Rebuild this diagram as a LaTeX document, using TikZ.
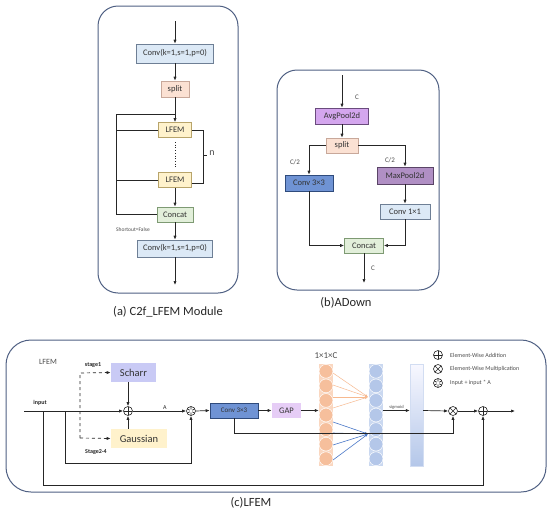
\documentclass[tikz,border=0pt]{standalone}
\usepackage{fontspec}
\setmainfont{Carlito}
\usetikzlibrary{arrows.meta,calc}
\definecolor{panelc}{HTML}{4F6083}
\definecolor{cl}{HTML}{DCE9F6}
\definecolor{clb}{HTML}{6E7F95}
\definecolor{peach}{HTML}{FBE1D3}
\definecolor{peachb}{HTML}{C8A89A}
\definecolor{yel}{HTML}{FFF2CC}
\definecolor{yelb}{HTML}{B8A46A}
\definecolor{grn}{HTML}{E2EFDA}
\definecolor{grnb}{HTML}{7E9A73}
\definecolor{avg}{HTML}{D4A6EE}
\definecolor{avgb}{HTML}{6A4B7D}
\definecolor{maxp}{HTML}{B08FC4}
\definecolor{maxpb}{HTML}{5A4466}
\definecolor{cdark}{HTML}{6F93D4}
\definecolor{cdarkb}{HTML}{2F4B7C}
\definecolor{sch}{HTML}{C9CAF5}
\definecolor{gapc}{HTML}{E6CDF6}
\definecolor{orl}{HTML}{FAD7C0}
\definecolor{orc}{HTML}{F6BF9C}
\definecolor{orline}{HTML}{F7B98F}
\definecolor{bll}{HTML}{CAD8F0}
\definecolor{blc}{HTML}{B4C7E9}
\definecolor{blline}{HTML}{4A78C8}
\begin{document}
\begin{tikzpicture}[x=1pt,y=-1pt,
  font=\fontsize{8.5}{9.5}\selectfont,
  ln/.style={line width=0.7pt, draw=black!85},
  arr/.style={ln,-{Latex[length=4pt,width=3.2pt]}},
  bx/.style={rectangle, inner sep=0pt, line width=0.6pt, text=black!80},
  panel/.style={draw=panelc, line width=1pt, fill=white},
  lbl/.style={text=black!70, inner sep=1pt},
  opc/.style={circle, draw=black!85, line width=0.6pt, minimum size=9pt, inner sep=0pt, fill=white},
  plusc/.style={opc, path picture={\draw[line width=0.6pt] (path picture bounding box.north) -- (path picture bounding box.south) (path picture bounding box.west) -- (path picture bounding box.east);}},
  timesc/.style={opc, path picture={\draw[line width=0.6pt] (path picture bounding box.north west) -- (path picture bounding box.south east) (path picture bounding box.north east) -- (path picture bounding box.south west);}},
  starc/.style={opc, path picture={\draw[line width=0.7pt] ($(path picture bounding box.center)+(0,5)$) -- ($(path picture bounding box.center)+(0,-5)$) ($(path picture bounding box.center)+(30:5pt)$) -- ($(path picture bounding box.center)+(210:5pt)$) ($(path picture bounding box.center)+(150:5pt)$) -- ($(path picture bounding box.center)+(330:5pt)$); \fill (path picture bounding box.center) circle (1.8pt);}},
  captxt/.style={font=\fontsize{12.5}{14}\selectfont, text=black!85}
]
\useasboundingbox (0,0) rectangle (550,512);

% ---------------- (a) ----------------
\draw[panel, rounded corners=20pt] (98,6) rectangle (238,293);
\node[bx, fill=cl, draw=clb, minimum width=77, minimum height=19] (a1) at (175,53.5) {Conv(k=1,s=1,p=0)};
\node[bx, fill=peach, draw=peachb, minimum width=28, minimum height=16] (a2) at (175,89) {split};
\node[bx, fill=yel, draw=yelb, minimum width=33, minimum height=15] (a3) at (175,130) {LFEM};
\node[bx, fill=yel, draw=yelb, minimum width=33, minimum height=15] (a4) at (175,180) {LFEM};
\node[bx, fill=grn, draw=grnb, minimum width=36, minimum height=15] (a5) at (175,214.5) {Concat};
\node[bx, fill=cl, draw=clb, minimum width=75, minimum height=17] (a6) at (175,248.5) {Conv(k=1,s=1,p=0)};
\coordinate (a0) at (175,21);
\coordinate (aend) at (175,285);
\coordinate (abr) at (175,114);
\coordinate (aL) at (116,114);
\coordinate (ad1) at (175,142);
\coordinate (ad2) at (175,168);
\coordinate (ab1) at (203,130);
\coordinate (ab2) at (203,183);
\coordinate (abt) at (207,155);
\draw[arr] (a0) -- (a1);
\draw[arr] (a1) -- (a2);
\draw[arr] (a2) -- (a3);
\draw[arr] (a4) -- (a5);
\draw[arr] (a5) -- (a6);
\draw[arr] (a6) -- (aend);
\draw[ln] (abr) -- (aL) -- (aL |- a5.west) -- (a5.west);
\draw[ln] (aL |- a3.west) -- (a3.west);
\draw[ln] (aL |- a4.west) -- (a4.west);
\draw[ln, dotted] (ad1) -- (ad2);
\draw[ln] (a3.east) -- (ab1) -- (ab2) -- (a4.east |- ab2);
\draw[ln] (ab1 |- abt) -- (abt);
\node[lbl, font=\fontsize{10}{12}\selectfont] (an) at (212,153) {n};
\node[lbl, font=\fontsize{5.5}{6}\selectfont] (ash) at (133,230) {Shortout=False};
\node[captxt] (acap) at (168,312) {(a) C2f\_LFEM Module};

% ---------------- (b) ----------------
\draw[panel, rounded corners=20pt] (277,70) rectangle (439,290);
\node[bx, fill=avg, draw=avgb, minimum width=53, minimum height=16] (b1) at (342,116) {AvgPool2d};
\node[bx, fill=peach, draw=peachb, minimum width=32, minimum height=15] (b2) at (342,145.5) {split};
\node[bx, fill=cdark, draw=cdarkb, minimum width=48, minimum height=16] (b3) at (309,183) {Conv 3×3};
\node[bx, fill=maxp, draw=maxpb, minimum width=56, minimum height=17] (b4) at (405,175.5) {MaxPool2d};
\node[bx, fill=cl, draw=clb, minimum width=50, minimum height=15] (b5) at (405,211.5) {Conv 1×1};
\node[bx, fill=grn, draw=grnb, minimum width=39, minimum height=15] (b6) at (364,245.5) {Concat};
\coordinate (b0) at (342,75);
\coordinate (bend) at (364,283);
\draw[arr] (b0) -- (b1);
\draw[arr] (b1) -- (b2);
\draw[arr] (b2.west) -| (b3.north);
\draw[arr] (b2.east) -| (b4.north);
\draw[arr] (b4) -- (b5);
\draw[arr] (b3.south) |- (b6.west);
\draw[arr] (b5.south) |- (b6.east);
\draw[arr] (b6) -- (bend);
\node[lbl, font=\fontsize{7}{8}\selectfont] (bl1) at (357,97) {C};
\node[lbl, font=\fontsize{7}{8}\selectfont] (bl2) at (295,162) {C/2};
\node[lbl, font=\fontsize{7}{8}\selectfont] (bl3) at (390,160) {C/2};
\node[lbl, font=\fontsize{7}{8}\selectfont] (bl4) at (373,268) {C};
\node[captxt] (bcap) at (346,303) {(b)ADown};

% ---------------- (c) ----------------
\draw[panel, rounded corners=25pt] (6,340) rectangle (546,492);
\node[lbl, font=\fontsize{8}{9}\selectfont] (clab) at (48,362) {LFEM};
\node[bx, fill=sch, minimum width=45, minimum height=19, font=\fontsize{10.5}{12}\selectfont] (sch) at (133.5,372.5) {Scharr};
\node[bx, fill=yel, minimum width=56, minimum height=19, font=\fontsize{10.5}{12}\selectfont] (gau) at (139,438.5) {Gaussian};
\node[lbl, font=\bfseries\fontsize{6}{7}\selectfont, text=black!85] (st1) at (93,365) {stage1};
\node[lbl, font=\bfseries\fontsize{6}{7}\selectfont, text=black!85] (st2) at (96,452) {Stage2-4};
\node[lbl, font=\bfseries\fontsize{6}{7}\selectfont, text=black!85] (inl) at (40,403) {input};
\node[plusc] (p1) at (128,411) {};
\node[starc] (s1) at (191,411) {};
\node[bx, fill=cdark, draw=cdarkb, minimum width=48, minimum height=15, font=\fontsize{7}{8}\selectfont] (c1) at (234,410.5) {Conv 3×3};
\node[bx, fill=gapc, minimum width=29, minimum height=15, font=\fontsize{8.5}{9}\selectfont] (gap) at (286.5,410.5) {GAP};
% columns
\node[rectangle, inner sep=0pt, minimum width=14, minimum height=102, fill=orl] (oc) at (326,415) {};
\foreach \i in {0,...,6} \fill[orc, draw=white, line width=0.5pt] (326,371.3+\i*14.57) circle (6.9pt);
\node[rectangle, inner sep=0pt, minimum width=14, minimum height=102, fill=bll] (bc) at (376,415) {};
\foreach \i in {0,...,6} \fill[blc, draw=white, line width=0.5pt] (376,371.3+\i*14.57) circle (6.9pt);
\shade[top color=blue!3, bottom color=blc] (410,364) rectangle (423,466);
\node[rectangle, inner sep=0pt, minimum width=13, minimum height=102, draw=blc!60, line width=0.4pt] (lb) at (416.5,415) {};
\node[lbl, font=\fontsize{9}{10}\selectfont] (dim) at (326,356) {1×1×C};
% fans
\coordinate (of) at (368,397);
\foreach \yy in {373,385,397,408} \draw[draw=orline, line width=0.5pt, -{Latex[length=3pt,width=2.5pt]}] (333,\yy) -- (of);
\coordinate (bf) at (368,434);
\foreach \yy in {422,433,445,460} \draw[draw=blline, line width=0.6pt, -{Latex[length=3pt,width=2.5pt]}] (333,\yy) -- (bf);
\node[timesc] (m1) at (453,411) {};
\node[plusc] (p2) at (483,411) {};
% coordinates
\coordinate (in0) at (24,411);
\coordinate (in1) at (43,411);
\coordinate (cbyp) at (65,411);
\coordinate (cb1) at (65,463);
\coordinate (d0) at (80,373);
\coordinate (d1) at (80,438);
\coordinate (cr) at (453,433);
\coordinate (cbot) at (483,485);
\coordinate (out) at (515,411);
% connectors
\draw[arr] (in0) -- (p1.west);
\draw[arr] (p1 |- sch.south) -- (p1.north);
\draw[arr] (p1 |- gau.north) -- (p1.south);
\draw[arr] (p1.east) -- (s1.west) node[pos=0.6, above, lbl, font=\fontsize{6}{7}\selectfont, text=black!85] {A};
\draw[arr] (cbyp) -- (cb1) -| (s1.south);
\draw[arr, dashed] (d1) -- (d0) -- (sch.west);
\draw[arr, dashed] (d1) -- (gau.west);
\draw[arr] (s1.east) -- (c1.west);
\draw[arr] (c1.east) -- (gap.west);
\draw[arr] (gap.east) -- (oc.west |- gap.east);
\draw[arr] (bc.east |- gap.east) -- (lb.west |- gap.east) node[midway, above, lbl, font=\fontsize{4.5}{5}\selectfont] {sigmoid};
\draw[arr] (lb.east |- gap.east) -- (m1.west);
\draw[arr] (m1.east) -- (p2.west);
\draw[arr] (p2.east) -- (out);
\draw[arr] (c1.south) |- (cr) -- (m1.south);
\draw[arr] (in1) |- (cbot) -- (p2.south);
% legend
\node[plusc] (lg1) at (438,355) {};
\node[timesc] (lg2) at (438,369) {};
\node[starc] (lg3) at (438,383) {};
\node[lbl, anchor=west, font=\fontsize{6}{7}\selectfont] (lt1) at (449,355) {Element-Wise Addition};
\node[lbl, anchor=west, font=\fontsize{6}{7}\selectfont] (lt2) at (449,369) {Element-Wise Multiplication};
\node[lbl, anchor=west, font=\fontsize{6}{7}\selectfont] (lt3) at (449,383) {Input + input * A};
\node[captxt] (ccap) at (251,503) {(c)LFEM};
\end{tikzpicture}
\end{document}
